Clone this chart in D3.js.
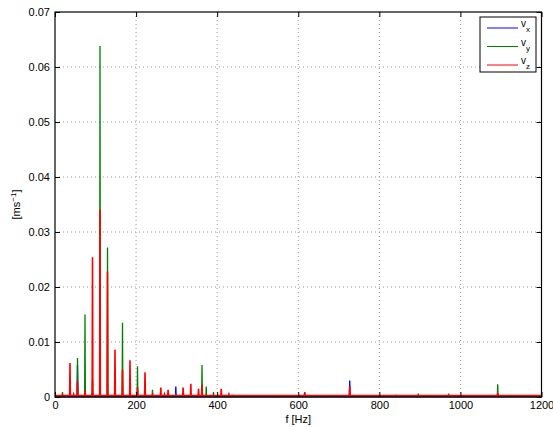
<!DOCTYPE html>
<html>
<head>
<meta charset="utf-8">
<script src="https://cdn.jsdelivr.net/npm/d3@7"></script>
<style>
  body { margin: 0; background: #fff; }
  svg { display: block; font-family: "Liberation Sans", Arial, Helvetica, sans-serif; }
  .tick-label { font-size: 11px; fill: #000; }
</style>
</head>
<body>
<svg id="chart" width="553" height="427"></svg>
<script>
// Spectrum peaks: [frequency Hz, amplitude ms^-1]
const vxPeaks = [
  [55.5, 0.0058], [92.5, 0.0008], [111, 0.0006], [129.5, 0.0004],
  [298, 0.0019], [727, 0.0030], [1092, 0.0003]
];
const vyPeaks = [
  [18.5, 0.0009], [37, 0.0004], [55.5, 0.0071], [74, 0.0150], [92.5, 0.0030],
  [111, 0.0638], [129.5, 0.0272], [148, 0.0006], [166.5, 0.0135], [185, 0.0010],
  [203.5, 0.0056], [222, 0.0005], [240.5, 0.0013], [298, 0.0006], [362.6, 0.0058],
  [373, 0.0019], [391, 0.0009], [440, 0.0004], [616, 0.0009], [727, 0.0005],
  [840, 0.0004], [896, 0.0006], [971, 0.0006], [1092, 0.0023]
];
const vzPeaks = [
  [18.5, 0.0004], [37, 0.0062], [46, 0.0005], [55.5, 0.0028], [74, 0.0012],
  [92.5, 0.0254], [111, 0.0341], [129.5, 0.0228], [148, 0.0086], [166.5, 0.0050],
  [185, 0.0067], [203.5, 0.0018], [222, 0.0045], [240.5, 0.0005], [261, 0.0017],
  [270, 0.0005], [279, 0.0013], [316, 0.0017], [335, 0.0024], [354, 0.0015],
  [362.6, 0.0022], [410, 0.0015], [429, 0.0005], [616, 0.0008], [727, 0.0020],
  [1092, 0.0007]
];
// noise floor of each series
const floors = { vx: 0.00005, vy: 0.0001, vz: 0.00025 };

const xTicks = [0, 200, 400, 600, 800, 1000, 1200];
const yTicks = [0, 0.01, 0.02, 0.03, 0.04, 0.05, 0.06, 0.07];

const series = [
  { key: "vx", name: "x", color: "#0000ff", peaks: vxPeaks },
  { key: "vy", name: "y", color: "#008000", peaks: vyPeaks },
  { key: "vz", name: "z", color: "#ff0000", peaks: vzPeaks }
];

// Layout
const margin = { top: 12, right: 12, bottom: 30, left: 55 };
const innerW = 541.5 - margin.left;
const innerH = 397 - margin.top;

const svg = d3.select("#chart");
const g = svg.append("g").attr("transform", `translate(${margin.left},${margin.top})`);

const x = d3.scaleLinear().domain([0, 1200]).range([0, innerW]);
const y = d3.scaleLinear().domain([0, 0.07]).range([innerH, 0]);

// Grid (dotted, MATLAB style)
g.append("g").selectAll("line")
  .data(xTicks.slice(1, -1))
  .join("line")
    .attr("x1", d => x(d)).attr("x2", d => x(d))
    .attr("y1", 0).attr("y2", innerH)
    .attr("stroke", "#999").attr("stroke-width", 1)
    .attr("stroke-dasharray", "1,3");

g.append("g").selectAll("line")
  .data(yTicks.slice(1, -1))
  .join("line")
    .attr("y1", d => y(d)).attr("y2", d => y(d))
    .attr("x1", 0).attr("x2", innerW)
    .attr("stroke", "#999").attr("stroke-width", 1)
    .attr("stroke-dasharray", "1,3");

// Build spike lines from the peak lists
const halfWidth = 0.9; // Hz
function spikePoints(peaks, floor) {
  const pts = [[0, floor]];
  peaks.forEach(([f, a]) => {
    pts.push([f - halfWidth, floor], [f, a], [f + halfWidth, floor]);
  });
  pts.push([1200, floor]);
  return pts;
}

const line = d3.line()
  .x(d => x(d[0]))
  .y(d => y(d[1]));

series.forEach(s => {
  g.append("path")
    .datum(spikePoints(s.peaks, floors[s.key]))
    .attr("fill", "none")
    .attr("stroke", s.color)
    .attr("stroke-width", s.key === "vz" ? 1.6 : 1.3)
    .attr("stroke-linejoin", "miter")
    .attr("d", line);
});

// Axes: ticks inside, box around
const xAxis = d3.axisBottom(x).tickValues(xTicks).tickSize(-5).tickPadding(4).tickFormat(d3.format("d"));
const yAxis = d3.axisLeft(y).tickValues(yTicks).tickSize(-5).tickPadding(5)
  .tickFormat(d => d === 0 ? "0" : d3.format(".2f")(d));

const gx = g.append("g").attr("transform", `translate(0,${innerH})`).call(xAxis);
const gy = g.append("g").call(yAxis);
[gx, gy].forEach(ax => {
  ax.select(".domain").remove();
  ax.selectAll("line").attr("stroke", "#000");
  ax.selectAll("text").attr("class", "tick-label").attr("font-family", null).attr("font-size", null);
});

// top and right ticks
g.append("g").call(d3.axisTop(x).tickValues(xTicks).tickSize(-5).tickFormat(""))
  .call(a => a.select(".domain").remove())
  .selectAll("line").attr("stroke", "#000");
g.append("g").attr("transform", `translate(${innerW},0)`)
  .call(d3.axisRight(y).tickValues(yTicks).tickSize(-5).tickFormat(""))
  .call(a => a.select(".domain").remove())
  .selectAll("line").attr("stroke", "#000");

g.append("rect")
  .attr("width", innerW).attr("height", innerH)
  .attr("fill", "none").attr("stroke", "#000").attr("stroke-width", 1.2);

// Axis labels
svg.append("text")
  .attr("x", margin.left + innerW / 2)
  .attr("y", 423)
  .attr("text-anchor", "middle")
  .attr("font-size", 11)
  .text("f [Hz]");

const yl = svg.append("text")
  .attr("transform", `translate(20,${margin.top + innerH / 2}) rotate(-90)`)
  .attr("text-anchor", "middle")
  .attr("font-size", 11);
yl.append("tspan").text("[ms");
yl.append("tspan").attr("dy", -4).attr("font-size", 8).text("−1");
yl.append("tspan").attr("dy", 4).text("]");

// Legend
const lg = svg.append("g").attr("transform", "translate(480,17)");
lg.append("rect")
  .attr("width", 56).attr("height", 55)
  .attr("fill", "#fff").attr("stroke", "#000").attr("stroke-width", 1);

series.forEach((s, i) => {
  const yy = 11 + i * 18.5;
  lg.append("line")
    .attr("x1", 7).attr("x2", 38)
    .attr("y1", yy).attr("y2", yy)
    .attr("stroke", s.color).attr("stroke-width", 1);
  const t = lg.append("text")
    .attr("x", 41).attr("y", yy - 1)
    .attr("font-size", 10);
  t.append("tspan").text("v");
  t.append("tspan").attr("dy", 5).attr("font-size", 8).text(s.name);
});
</script>
</body>
</html>
